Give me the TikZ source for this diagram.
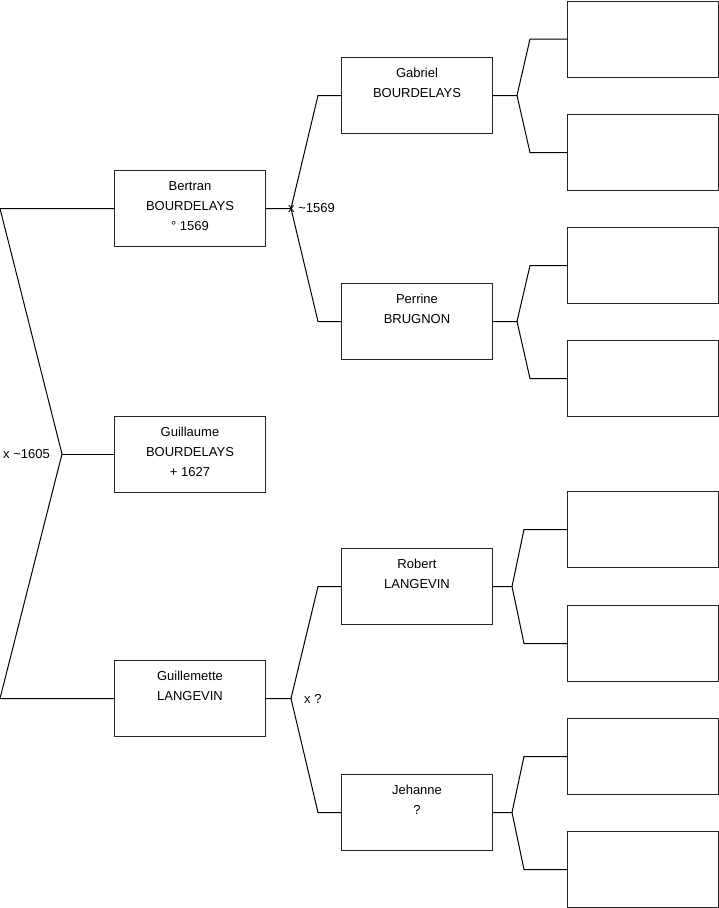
\documentclass[tikz,border=0pt]{standalone}
\usepackage{fontspec}
\setmainfont{Liberation Sans}
\usetikzlibrary{positioning}

\begin{document}
\begin{tikzpicture}[
  x=1pt, y=-1pt,
  font=\fontsize{13}{20}\selectfont,
  person/.style={draw=black!85, line width=1pt, anchor=north west, minimum width=151pt, minimum height=76pt, inner sep=0pt},
  ptext/.style={anchor=north, align=center, inner sep=0pt, yshift=-11pt},
  link/.style={line width=1pt},
  note/.style={inner sep=0pt}
]
\useasboundingbox (0,0) rectangle (719,908);

% --- first generation ---
\node[person, label={[ptext]north:Bertran\\BOURDELAYS\\° 1569}]      (bertran)     at (114,170) {};
\node[person, label={[ptext]north:Guillaume\\BOURDELAYS\\+ 1627}]    (guillaume)   at (114,416) {};
\node[person, label={[ptext]north:Guillemette\\LANGEVIN}]            (guillemette) at (114,660) {};

% --- second generation ---
\node[person, label={[ptext]north:Gabriel\\BOURDELAYS}] (gabriel) at (341,57)  {};
\node[person, label={[ptext]north:Perrine\\BRUGNON}]    (perrine) at (341,283) {};
\node[person, label={[ptext]north:Robert\\LANGEVIN}]    (robert)  at (341,548) {};
\node[person, label={[ptext]north:Jehanne\\?}]          (jehanne) at (341,774) {};

% --- third generation (empty) ---
\node[person] (g1) at (567,0.5) {};
\node[person] (g2) at (567,114) {};
\node[person] (p1) at (567,227) {};
\node[person] (p2) at (567,340) {};
\node[person] (r1) at (567,491) {};
\node[person] (r2) at (567,605) {};
\node[person] (j1) at (567,718) {};
\node[person] (j2) at (567,831) {};

% --- marriage forks ---
\coordinate (m0) at (62,454);
\draw[link] (bertran.west) -- ([xshift=-114pt]bertran.west) -- (m0)
  -- ([xshift=-114pt]guillemette.west) -- (guillemette.west);
\draw[link] (m0) -- (m0 -| guillaume.west);
\node[note, anchor=east] (x0) at ([xshift=-12pt]m0) {x \textasciitilde1605};

\coordinate (m1) at ([xshift=25pt]bertran.east);
\draw[link] (bertran.east) -- (m1) -- ([xshift=-23pt]gabriel.west) -- (gabriel.west);
\draw[link] (m1) -- ([xshift=-23pt]perrine.west) -- (perrine.west);
\node[note, anchor=west] (x1) at ([xshift=-3pt]m1) {x \textasciitilde1569};

\coordinate (m2) at ([xshift=25pt]guillemette.east);
\draw[link] (guillemette.east) -- (m2) -- ([xshift=-23pt]robert.west) -- (robert.west);
\draw[link] (m2) -- ([xshift=-23pt]jehanne.west) -- (jehanne.west);
\node[note, anchor=west] (x2) at ([xshift=13pt]m2) {x ?};

% --- parents of the second generation ---
\coordinate (mg) at ([xshift=24pt]gabriel.east);
\draw[link] (gabriel.east) -- (mg) -- ([xshift=-37pt]g1.west) -- (g1.west);
\draw[link] (mg) -- ([xshift=-37pt]g2.west) -- (g2.west);

\coordinate (mp) at ([xshift=24pt]perrine.east);
\draw[link] (perrine.east) -- (mp) -- ([xshift=-37pt]p1.west) -- (p1.west);
\draw[link] (mp) -- ([xshift=-37pt]p2.west) -- (p2.west);

\coordinate (mr) at ([xshift=19pt]robert.east);
\draw[link] (robert.east) -- (mr) -- ([xshift=-43pt]r1.west) -- (r1.west);
\draw[link] (mr) -- ([xshift=-43pt]r2.west) -- (r2.west);

\coordinate (mj) at ([xshift=19pt]jehanne.east);
\draw[link] (jehanne.east) -- (mj) -- ([xshift=-43pt]j1.west) -- (j1.west);
\draw[link] (mj) -- ([xshift=-43pt]j2.west) -- (j2.west);
\end{tikzpicture}
\end{document}
